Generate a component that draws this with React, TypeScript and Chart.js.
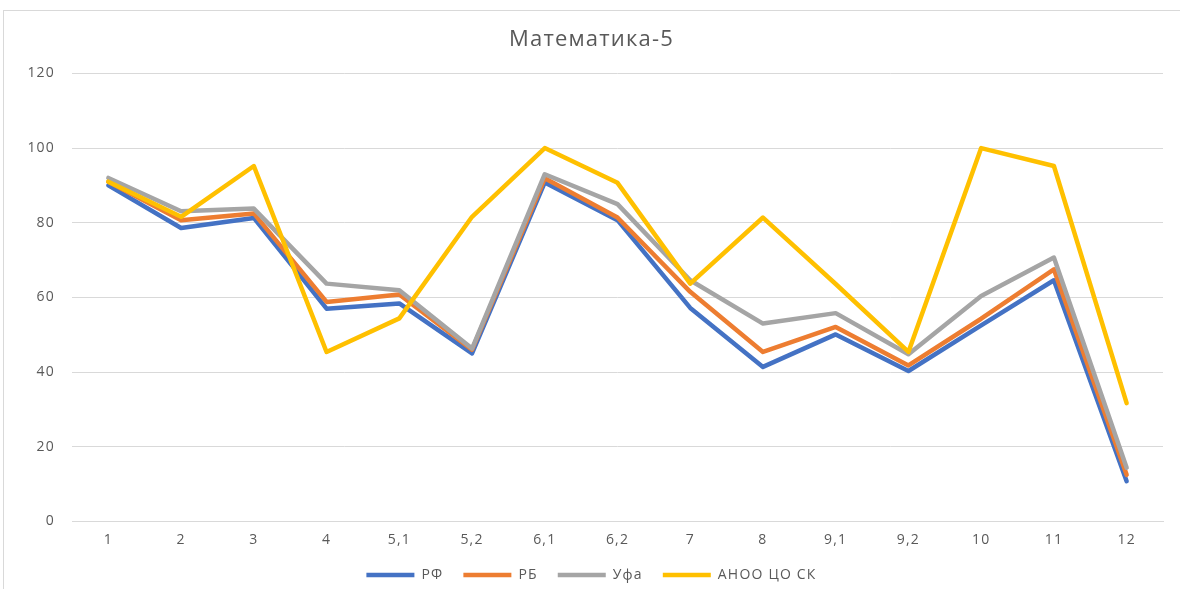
import React, { useEffect, useRef } from "react";
import { Chart, registerables } from "chart.js";

Chart.register(...registerables);

const categories = ["1", "2", "3", "4", "5,1", "5,2", "6,1", "6,2", "7", "8", "9,1", "9,2", "10", "11", "12"];
const seriesNames = ["РФ", "РБ", "Уфа", "АНОО ЦО СК"];
const rf = [90, 78.6, 81.3, 57, 58.4, 45, 90.8, 80.7, 57.2, 41.4, 50.1, 40.3, 52.5, 64.6, 10.8];
const rb = [91, 80.7, 82.5, 58.8, 60.8, 46, 91.9, 81.4, 61.5, 45.4, 52.1, 41.8, 54.3, 67.5, 12.5];
const ufa = [92, 83.1, 83.8, 63.7, 61.9, 46.3, 93, 85, 64.6, 53, 55.8, 44.8, 60.4, 70.7, 14.4];
const anoo = [91, 81.6, 95.2, 45.4, 54.4, 81.6, 100, 90.7, 63.7, 81.4, 63.6, 45.4, 100, 95.2, 31.7];
const colors = ["#4472C4", "#ED7D31", "#A5A5A5", "#FFC000"];

const FONT = "'Open Sans', 'Liberation Sans', Arial, sans-serif";
const TEXT = "#595959";
const GRID = "#d9d9d9";
const SPACING = "1.2px";

const setSpacing = (chart: any) => {
  try {
    chart.ctx.letterSpacing = SPACING;
  } catch (e) {}
};

const framePlugin = {
  id: "frame",
  beforeInit: setSpacing,
  beforeUpdate: setSpacing,
  beforeLayout: setSpacing,
  beforeDraw(chart: any) {
    const ctx = chart.ctx;
    ctx.save();
    ctx.fillStyle = "#ffffff";
    ctx.fillRect(0, 0, chart.width, chart.height);
    ctx.strokeStyle = GRID;
    ctx.lineWidth = 1;
    ctx.strokeRect(3.5, 10.5, 1300, 700);
    ctx.restore();
    setSpacing(chart);
  },
};

export default function App() {
  const ref = useRef<HTMLCanvasElement | null>(null);
  useEffect(() => {
    if (!ref.current) return;
    const all = [rf, rb, ufa, anoo];
    const chart = new Chart(ref.current, {
      type: "line",
      data: {
        labels: categories,
        datasets: all.map((d, i) => ({
          label: seriesNames[i],
          data: d,
          borderColor: colors[i],
          backgroundColor: colors[i],
          borderWidth: 4.5,
          pointRadius: 0,
          pointHoverRadius: 0,
          tension: 0,
          fill: false,
          borderJoinStyle: "round" as const,
          borderCapStyle: "round" as const,
          order: 4 - i,
          pointStyle: "line" as const,
        })),
      },
      options: {
        responsive: false,
        animation: false,
        layout: { padding: { left: 20, right: 17, top: 20, bottom: -3 } },
        plugins: {
          title: {
            display: true,
            text: "Математика-5",
            color: TEXT,
            font: { family: FONT, size: 22, weight: "normal" },
            padding: { top: 7, bottom: 20 },
          },
          legend: {
            position: "bottom",
            labels: {
              usePointStyle: true,
              pointStyleWidth: 48,
              color: TEXT,
              font: { family: FONT, size: 14 },
              padding: 20,
              sort: (a: any, b: any) => a.datasetIndex - b.datasetIndex,
            },
          },
          tooltip: { enabled: false },
        },
        scales: {
          x: {
            offset: true,
            grid: { display: false, drawTicks: false },
            border: { display: true, color: GRID, width: 1 },
            ticks: { color: TEXT, font: { family: FONT, size: 14 }, padding: 10, maxRotation: 0 },
            afterFit(scale: any) {
              scale.height = 26.5;
            },
          },
          y: {
            min: 0,
            max: 120,
            ticks: { stepSize: 20, color: TEXT, font: { family: FONT, size: 14 }, padding: 17 },
            grid: { color: GRID, lineWidth: 1, drawTicks: false },
            border: { display: false },
            afterFit(scale: any) {
              scale.width = 52;
            },
          },
        },
      },
      plugins: [framePlugin],
    });
    return () => chart.destroy();
  }, []);
  return (
    <div style={{ position: "fixed", left: 0, top: 0, width: 1180, height: 589 }}>
      <canvas ref={ref} width={1180} height={589} />
    </div>
  );
}
